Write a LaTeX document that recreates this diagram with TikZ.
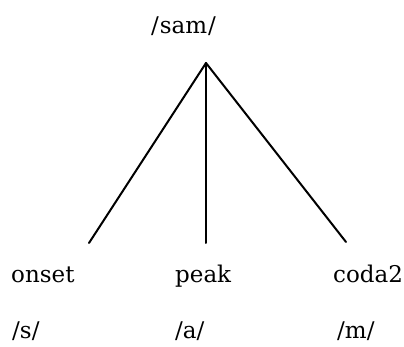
\documentclass[tikz,border=0pt]{standalone}
\usepackage{fontspec}
\setmainfont{DejaVu Serif}
\begin{document}
\begin{tikzpicture}[x=1pt,y=-1pt,
  lbl/.style={anchor=base west,inner sep=0pt,font=\fontsize{23}{26}\selectfont},
  branch/.style={line width=2pt,line cap=round}]
\useasboundingbox[fill=white] (0,0) rectangle (404,347);
\node[lbl] (sam) at (151,34) {/\kern1pt sam\kern1pt/};
\coordinate (apex) at (206,63);
\coordinate (lend) at (89,243);
\coordinate (mend) at (206,243);
\coordinate (rend) at (346,242);
\draw[branch] (apex) -- (lend);
\draw[branch] (apex) -- (mend);
\draw[branch] (apex) -- (rend);
\node[lbl] (onset) at (11,283) {onset};
\node[lbl] (peak) at (175,283) {peak};
\node[lbl] (coda) at (333,283) {coda2};
\node[lbl] (s) at (12,338) {/s/};
\node[lbl] (a) at (175,338) {/a/};
\node[lbl] (m) at (337,338) {/m/};
\end{tikzpicture}
\end{document}
